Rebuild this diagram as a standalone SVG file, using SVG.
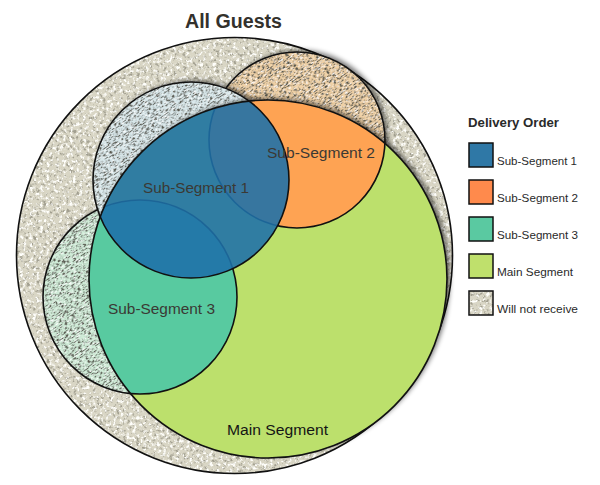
<svg xmlns="http://www.w3.org/2000/svg" width="600" height="485" viewBox="0 0 600 485">
<style>
.ol{fill:none;stroke:#111;stroke-width:1.6}
.lbl{font-family:"Liberation Sans","Open Sans",sans-serif;font-size:15.5px;fill:#3b3934}
.leg{font-family:"Liberation Sans","Open Sans",sans-serif;font-size:11px;fill:#2a2a2a}
.sw{stroke:#111;stroke-width:1.5}
</style>
<defs>
<clipPath id="mainClip"><circle cx="268" cy="279" r="179"/></clipPath>
<filter id="texOuter" x="0" y="0" width="1" height="1">
 <feTurbulence type="fractalNoise" baseFrequency="0.3" numOctaves="3" seed="7" result="noise"/>
 <feColorMatrix in="noise" type="matrix" values="0 0 0 0 0.36  0 0 0 0 0.35  0 0 0 0 0.28  4.5 0 0 0 -2.3" result="dark"/>
 <feColorMatrix in="noise" type="matrix" values="0 0 0 0 1  0 0 0 0 1  0 0 0 0 0.97  0 -5 0 0 2.35" result="light"/>
 <feMerge result="m"><feMergeNode in="SourceGraphic"/><feMergeNode in="dark"/><feMergeNode in="light"/></feMerge>
 <feComposite in="m" in2="SourceGraphic" operator="in"/>
</filter>
<filter id="texHatch" x="0" y="0" width="1" height="1">
 <feTurbulence type="fractalNoise" baseFrequency="0.3 0.95" numOctaves="2" seed="4" result="noise"/>
 <feColorMatrix in="noise" type="matrix" values="0 0 0 0 0.1  0 0 0 0 0.1  0 0 0 0 0.08  6 0 0 0 -2.9" result="dark"/>
 <feColorMatrix in="noise" type="matrix" values="0 0 0 0 1  0 0 0 0 1  0 0 0 0 1  0 -5 0 0 2.3" result="light"/>
 <feMerge result="m"><feMergeNode in="SourceGraphic"/><feMergeNode in="light"/><feMergeNode in="dark"/></feMerge>
 <feComposite in="m" in2="SourceGraphic" operator="in"/>
</filter>
<filter id="shadow" x="-20%" y="-20%" width="140%" height="140%">
 <feGaussianBlur in="SourceAlpha" stdDeviation="2.5"/>
 <feOffset dx="3" dy="-2"/>
 <feComponentTransfer><feFuncA type="linear" slope="0.55"/></feComponentTransfer>
 <feMerge><feMergeNode/><feMergeNode in="SourceGraphic"/></feMerge>
</filter>
</defs>
<rect width="600" height="485" fill="#fff"/>

<g id="all-guests">
 <circle cx="234.5" cy="255.5" r="218" fill="#d9d6c5" filter="url(#texOuter)"/>
 <circle class="ol" cx="234.5" cy="255.5" r="218"/>
</g>

<g id="sub-segment-2">
 <g filter="url(#shadow)"><circle cx="297" cy="140" r="88" fill="#f0d1a6" filter="url(#texHatch)" transform="rotate(-35 297 140)"/></g>
 <circle class="ol" cx="297" cy="140" r="88"/>
</g>
<g id="sub-segment-3">
 <g filter="url(#shadow)"><circle cx="140" cy="297" r="97" fill="#d0ecd8" filter="url(#texHatch)" transform="rotate(-35 140 297)"/></g>
 <circle class="ol" cx="140" cy="297" r="97"/>
</g>
<g id="sub-segment-1">
 <g filter="url(#shadow)"><circle cx="191" cy="180" r="98" fill="#d8e7ea" filter="url(#texHatch)" transform="rotate(-35 191 180)"/></g>
 <circle class="ol" cx="191" cy="180" r="98"/>
</g>

<g id="main-segment">
 <g filter="url(#shadow)"><circle cx="268" cy="279" r="179" fill="#bce06c"/></g>
</g>

<g id="sub-segment-2-delivered" clip-path="url(#mainClip)">
 <circle cx="297" cy="140" r="88" fill="#fea353"/>
 <circle class="ol" cx="297" cy="140" r="88"/>
</g>
<g id="sub-segment-3-delivered" clip-path="url(#mainClip)">
 <circle cx="140" cy="297" r="97" fill="#58caa0"/>
 <circle class="ol" cx="140" cy="297" r="97"/>
</g>
<g id="sub-segment-1-delivered" clip-path="url(#mainClip)">
 <circle cx="191" cy="180" r="98" fill="#1e70a8" fill-opacity="0.89"/>
 <circle class="ol" cx="191" cy="180" r="98"/>
</g>
<g id="main-outline">
 <circle class="ol" cx="268" cy="279" r="179"/>
</g>

<g id="labels">
 <text x="233.5" y="28" text-anchor="middle" font-family="Liberation Sans, Open Sans, sans-serif" font-weight="bold" font-size="20" fill="#33312c" textLength="97" lengthAdjust="spacingAndGlyphs">All Guests</text>
 <text class="lbl" x="267" y="158" textLength="108" lengthAdjust="spacingAndGlyphs">Sub-Segment 2</text>
 <text class="lbl" x="143" y="193" textLength="106" lengthAdjust="spacingAndGlyphs">Sub-Segment 1</text>
 <text class="lbl" x="108" y="314" textLength="107" lengthAdjust="spacingAndGlyphs">Sub-Segment 3</text>
 <text class="lbl" x="227" y="435" style="fill:#151515" textLength="101" lengthAdjust="spacingAndGlyphs">Main Segment</text>
</g>

<g id="legend">
 <text x="468" y="127" font-family="Liberation Sans, Open Sans, sans-serif" font-weight="bold" font-size="12" fill="#2a2a2a" textLength="91" lengthAdjust="spacingAndGlyphs">Delivery Order</text>
 <rect class="sw" x="469" y="143" width="24" height="24" fill="#2f78a6"/>
 <text class="leg" x="497" y="165" textLength="80" lengthAdjust="spacingAndGlyphs">Sub-Segment 1</text>
 <rect class="sw" x="469" y="180" width="24" height="24" fill="#ff8a4c"/>
 <text class="leg" x="497" y="202" textLength="81" lengthAdjust="spacingAndGlyphs">Sub-Segment 2</text>
 <rect class="sw" x="469" y="217" width="24" height="24" fill="#5ac9a1"/>
 <text class="leg" x="497" y="239" textLength="81" lengthAdjust="spacingAndGlyphs">Sub-Segment 3</text>
 <rect class="sw" x="469" y="254" width="24" height="24" fill="#bfe06c"/>
 <text class="leg" x="497" y="276" textLength="76" lengthAdjust="spacingAndGlyphs">Main Segment</text>
 <rect x="469" y="291" width="24" height="24" fill="#d9d6c5" filter="url(#texOuter)"/>
 <rect class="sw" x="469" y="291" width="24" height="24" fill="none"/>
 <text class="leg" x="497" y="313" textLength="81" lengthAdjust="spacingAndGlyphs">Will not receive</text>
</g>
</svg>
